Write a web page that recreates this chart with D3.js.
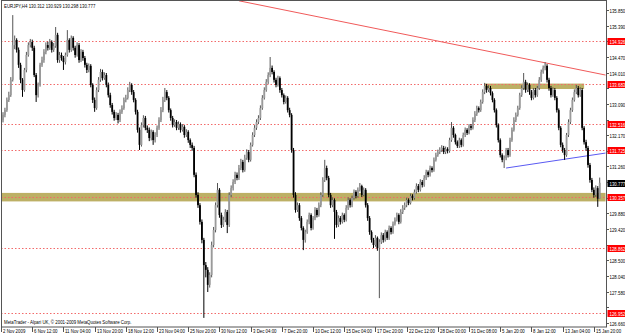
<!DOCTYPE html>
<html><head><meta charset="utf-8">
<script src="https://cdn.jsdelivr.net/npm/d3@7"></script>
<style>html,body{margin:0;padding:0;background:#fff;overflow:hidden}</style>
</head><body>
<svg id="c" width="625" height="334"></svg>
<script>
// ---- data (EURJPY H4) ----
const firstOpen = 132.62;
const closes = [
132.77,132.91,133.21,133.35,133.80,134.82,134.97,134.68,134.24,133.80,
133.50,134.09,134.53,134.82,134.91,134.74,133.94,133.35,133.65,134.24,
134.38,134.62,134.82,134.74,134.91,134.68,134.79,135.12,134.38,134.53,
134.44,134.32,134.53,134.97,134.68,135.03,134.74,134.53,134.82,134.38,
134.62,134.44,134.24,134.09,134.21,133.65,133.21,132.97,133.50,133.80,
134.03,133.85,133.94,133.65,133.35,133.06,132.86,132.68,132.77,132.62,
132.86,132.97,133.21,133.27,133.50,133.65,133.44,133.21,132.86,132.33,
131.89,132.47,132.68,132.39,132.33,132.09,132.27,132.03,132.18,132.39,
132.62,132.91,133.21,133.44,133.27,132.91,132.68,132.47,132.56,132.39,
132.50,132.33,132.42,132.18,132.27,132.03,131.89,131.80,131.01,130.42,
130.12,129.63,129.10,128.36,128.22,127.78,128.07,128.95,129.39,130.12,
130.57,129.83,129.54,129.69,129.92,129.54,130.42,130.62,130.80,131.01,
130.92,131.21,131.39,131.15,131.51,131.68,131.45,131.89,132.18,132.39,
132.56,132.68,132.97,133.27,133.50,133.74,133.94,134.15,134.03,133.80,
133.65,133.85,133.50,133.35,133.15,133.27,132.91,132.77,131.74,130.42,
129.98,130.12,129.74,129.45,129.10,129.33,129.63,129.83,129.45,129.74,
129.98,129.83,130.12,130.42,130.86,131.21,130.92,130.42,130.12,130.27,
129.92,129.54,129.74,129.63,129.83,129.69,130.04,130.27,130.12,130.33,
130.51,130.39,130.57,130.68,130.42,130.57,130.12,129.74,129.33,129.10,
128.95,129.16,128.86,129.04,129.24,129.10,129.33,129.16,129.45,129.33,
129.57,129.69,129.83,129.63,129.92,130.04,130.12,130.27,130.18,130.39,
130.33,130.51,130.68,130.57,130.80,130.71,130.92,131.09,131.01,131.21,
131.15,131.45,131.59,131.68,131.74,131.80,131.68,131.77,131.71,132.03,
132.39,132.18,131.97,131.86,132.03,131.89,132.18,132.33,132.24,132.44,
132.39,132.62,132.80,132.97,132.91,133.15,133.44,133.62,133.50,133.56,
133.41,133.21,132.91,132.47,132.03,131.59,131.45,131.50,131.74,131.59,
132.03,132.33,132.62,132.77,132.97,133.35,133.56,133.74,133.50,133.65,
133.44,133.27,133.50,133.35,133.56,133.80,134.03,134.15,134.21,133.80,
133.56,133.35,133.50,133.27,132.91,132.39,131.89,131.74,131.59,132.18,
132.56,132.91,133.21,133.44,133.56,133.35,133.50,132.39,131.97,131.80,
131.30,130.86,130.57,130.42,130.62,130.31,130.777];
const highs = [
132.85,132.98,133.28,133.45,133.88,135.70,135.10,135.02,134.75,134.30,
133.85,134.15,134.62,134.90,135.00,134.98,134.80,134.00,133.72,134.30,
134.48,134.70,134.90,134.92,135.00,134.96,134.88,135.35,135.18,134.62,
134.60,134.50,134.60,135.26,135.02,135.10,135.08,134.80,134.90,134.88,
134.70,134.68,134.50,134.30,134.28,134.26,133.70,133.28,133.58,133.88,
134.12,134.10,134.02,134.00,133.72,133.42,133.12,132.92,132.85,132.83,
132.93,133.05,133.28,133.36,133.58,133.74,133.70,133.50,133.26,132.92,
132.40,132.55,132.76,132.74,132.46,132.40,132.34,132.32,132.26,132.46,
132.70,133.00,133.30,133.56,133.50,133.32,132.96,132.74,132.64,132.62,
132.58,132.55,132.50,132.47,132.35,132.32,132.08,131.96,131.86,131.08,
130.50,130.18,129.70,129.16,128.45,128.30,128.15,129.05,129.48,130.20,
130.77,130.62,129.90,129.78,130.00,129.98,130.50,130.70,130.88,131.10,
131.08,131.30,131.48,131.45,131.60,131.76,131.74,131.96,132.26,132.47,
132.64,132.76,133.05,133.35,133.58,133.82,134.02,134.47,134.22,134.08,
133.86,133.92,133.90,133.56,133.40,133.34,133.32,132.98,132.82,131.80,
130.50,130.20,130.18,129.80,129.50,129.40,129.70,129.90,129.88,129.80,
130.06,130.04,130.20,130.50,130.94,131.45,131.28,130.98,130.48,130.35,
130.32,129.98,129.82,129.80,129.90,129.88,130.12,130.35,130.32,130.40,
130.58,130.56,130.64,130.77,130.72,130.64,130.62,130.18,129.80,129.38,
129.16,129.24,129.20,129.12,129.32,129.30,129.40,129.38,129.52,129.50,
129.64,129.76,129.90,129.88,130.00,130.12,130.20,130.34,130.32,130.46,
130.44,130.58,130.76,130.74,130.88,130.86,131.00,131.16,131.14,131.28,
131.26,131.52,131.66,131.75,131.82,131.88,131.86,131.84,131.82,132.10,
132.56,132.44,132.22,132.02,132.10,132.08,132.25,132.40,132.38,132.50,
132.50,132.70,132.88,133.04,133.02,133.22,133.52,133.71,133.68,133.64,
133.62,133.46,133.26,132.96,132.52,132.08,131.64,131.58,131.80,131.80,
132.10,132.40,132.70,132.84,133.04,133.42,133.64,134.00,133.80,133.72,
133.70,133.50,133.56,133.56,133.62,133.88,134.10,134.22,134.32,134.26,
133.86,133.62,133.58,133.56,133.32,132.96,132.44,131.96,131.80,132.24,
132.64,132.98,133.28,133.52,133.65,133.62,133.58,133.56,132.44,132.04,
131.86,131.36,130.92,130.64,130.70,130.68,130.93];
const lows = [
132.55,132.70,132.86,133.15,133.30,133.75,134.70,134.60,134.15,133.70,
133.30,133.45,134.02,134.48,134.75,134.65,133.88,133.15,133.28,133.60,
134.18,134.30,134.55,134.66,134.68,134.60,134.62,134.74,134.30,134.30,
134.36,134.09,134.25,134.48,134.60,134.62,134.66,134.45,134.48,134.30,
134.32,134.36,134.16,134.00,134.02,133.58,133.12,132.86,132.92,133.44,
133.74,133.78,133.80,133.58,133.28,132.98,132.78,132.60,132.62,132.52,
132.56,132.80,132.92,133.14,133.22,133.44,133.36,133.14,132.78,132.25,
131.74,131.84,132.40,132.32,132.24,132.00,132.02,131.89,131.96,132.12,
132.33,132.56,132.85,133.15,133.20,132.84,132.60,132.40,132.42,132.32,
132.33,132.25,132.28,132.10,132.12,131.95,131.80,131.72,130.94,130.34,
130.04,129.55,129.00,126.81,128.00,127.57,127.70,128.00,128.88,129.32,
130.05,129.75,129.45,129.48,129.62,129.30,129.48,130.35,130.55,130.74,
130.85,130.86,131.15,131.08,131.10,131.45,131.38,131.40,131.84,132.12,
132.33,132.50,132.62,132.92,133.22,133.45,133.68,133.88,133.96,133.72,
133.58,133.60,133.42,133.28,133.08,133.10,132.84,132.70,131.66,130.34,
129.90,129.92,129.66,129.38,128.80,129.02,129.28,129.56,129.38,129.40,
129.68,129.76,129.78,130.06,130.36,130.80,130.85,130.35,130.04,130.06,
129.13,129.46,129.48,129.55,129.58,129.62,129.64,129.98,130.05,130.06,
130.28,130.32,130.34,130.52,130.36,130.38,130.05,129.66,129.25,129.02,
128.86,128.90,128.78,127.39,128.98,129.02,129.05,129.10,129.10,129.26,
129.28,129.52,129.64,129.56,129.58,129.86,129.98,130.06,130.12,130.14,
130.26,130.28,130.46,130.50,130.52,130.64,130.66,130.86,130.94,130.96,
131.08,131.10,131.40,131.54,131.62,131.68,131.62,131.62,131.64,131.66,
131.98,132.10,131.90,131.80,131.80,131.82,131.84,132.12,132.18,132.20,
132.32,132.34,132.56,132.74,132.84,132.86,133.10,133.38,133.42,133.44,
133.34,133.14,132.84,132.40,131.96,131.52,131.38,131.21,131.44,131.52,
131.54,131.98,132.28,132.56,132.72,132.92,133.30,133.50,133.42,133.44,
133.36,133.20,133.22,133.28,133.30,133.50,133.74,133.98,134.08,133.72,
133.48,133.28,133.30,133.20,132.84,132.32,131.82,131.66,131.45,131.54,
132.12,132.50,132.86,133.16,133.38,133.28,133.30,132.32,131.90,131.72,
131.22,130.78,130.50,130.34,130.36,130.07,130.30];

const priceTicks = ["135.850","135.390","134.930","134.470","134.010","133.550","133.090",
  "132.630","132.170","131.710","131.260","130.800","130.340","129.880","129.420",
  "128.960","128.500","128.040","127.580","127.120","126.660"];
const timeLabels = ["2 Nov 2009","6 Nov 12:00","11 Nov 04:00","13 Nov 20:00","18 Nov 12:00",
  "23 Nov 04:00","25 Nov 20:00","30 Nov 12:00","3 Dec 04:00","7 Dec 20:00","10 Dec 12:00",
  "15 Dec 04:00","17 Dec 20:00","22 Dec 12:00","28 Dec 00:00","31 Dec 08:00","5 Jan 20:00",
  "8 Jan 12:00","13 Jan 04:00","15 Jan 20:00"];
const levelPrices = [134.926, 133.683, 132.516, 131.725, 130.357, 128.862, 126.952];
const currentPrice = 130.777;
const zones = [{from:0, to:309, lo:130.23, hi:130.48}, {from:247, to:298, lo:133.53, hi:133.69}];
const redTrend = [{bar:121, p:136.12}, {bar:309, p:133.94}];
const blueTrend = [{bar:258, p:131.21}, {bar:309, p:131.65}];
const title = "EURJPY,H4  130.312 130.929 130.298 130.777";
const footer = "MetaTrader - Alpari UK, \u00a9 2001-2009 MetaQuotes Software Corp.";

// ---- layout ----
const L = 1, T = 1, R = 606, B = 327;
const svg = d3.select("#c");
const x = d3.scaleLinear().domain([0, closes.length - 1]).range([3, 599.7]);
const y = d3.scaleLinear().domain([126.66, 135.85]).range([323, 10]);
const FONT = "'Liberation Sans', Arial, sans-serif";
const FS = 5.6, SX = 0.78;

svg.append("defs").append("clipPath").attr("id","plot")
  .append("rect").attr("x",L).attr("y",T).attr("width",R-L).attr("height",B-T);
const plot = svg.append("g").attr("clip-path","url(#plot)");

// zones
plot.selectAll("rect.zone").data(zones).join("rect").attr("class","zone")
  .attr("x", d => d.from === 0 ? L : x(d.from))
  .attr("width", d => Math.min(R, x(d.to)) - (d.from === 0 ? L : x(d.from)))
  .attr("y", d => y(d.hi)).attr("height", d => y(d.lo) - y(d.hi))
  .attr("fill","#bdb065");

// horizontal level lines (dotted)
plot.selectAll("line.lvl").data(levelPrices).join("line")
  .attr("x1",L).attr("x2",R).attr("y1",d=>Math.round(y(d))+0.5).attr("y2",d=>Math.round(y(d))+0.5)
  .attr("stroke","#f26a6a").attr("stroke-width",1).attr("stroke-dasharray","1.5,2");

// trend lines
const tl = d3.line().x(d => x(d.bar)).y(d => y(d.p));
plot.append("path").datum(redTrend).attr("d", tl).attr("stroke","#f05a5a").attr("fill","none").attr("stroke-width",1);
plot.append("path").datum(blueTrend).attr("d", tl).attr("stroke","#5a5af2").attr("fill","none").attr("stroke-width",1);

// candles
const bars = closes.map((c, i) => {
  const o = i === 0 ? firstOpen : closes[i-1];
  return {i, o, c, h: Math.max(highs[i], o, c), l: Math.min(lows[i], o, c)};
});
const g = plot.append("g");
g.selectAll("line.wick").data(bars).join("line")
  .attr("x1", d => x(d.i)).attr("x2", d => x(d.i))
  .attr("y1", d => y(d.h)).attr("y2", d => y(d.l))
  .attr("stroke", d => d.c >= d.o ? "#555" : "#000").attr("stroke-width", 1);
g.selectAll("rect.body").data(bars).join("rect")
  .attr("x", d => x(d.i) - 0.9).attr("width", 1.8)
  .attr("y", d => y(Math.max(d.o, d.c)))
  .attr("height", d => Math.max(0.8, Math.abs(y(d.o) - y(d.c))))
  .attr("fill", d => d.c >= d.o ? "#9a9a9a" : "#000");

// frame
svg.append("rect").attr("x",L+0.5).attr("y",T-0.5).attr("width",R-L).attr("height",B-T+0.5)
  .attr("fill","none").attr("stroke","#555").attr("stroke-width",1);

function txt(sel, s, tx, ty, color) {
  return sel.append("text").attr("transform",`translate(${tx},${ty}) scale(${SX},1)`)
    .attr("font-family",FONT).attr("font-size",FS).attr("fill",color||"#000").text(s);
}

// price axis (tick labels hidden under a level label are not drawn, as in MT4)
const pa = svg.append("g");
const labelYs = levelPrices.concat([currentPrice]).map(p => y(p));
priceTicks.forEach(t => {
  const yy = Math.round(y(+t)) + 0.5;
  pa.append("line").attr("x1",R).attr("x2",R+3).attr("y1",yy).attr("y2",yy).attr("stroke","#555");
  if (labelYs.every(ly => Math.abs(ly - yy) > 6.5)) txt(pa, t, R+3.5, yy+2);
});
levelPrices.forEach(p => {
  const yy = Math.round(y(p)) + 0.5;
  pa.append("rect").attr("x",R+1.5).attr("y",yy-3.5).attr("width",625-R).attr("height",7).attr("fill","#ff0000");
  txt(pa, p.toFixed(3), R+3.5, yy+2, "#fff");
});
{
  const yy = Math.round(y(currentPrice)) + 0.5;
  pa.append("rect").attr("x",R+1.5).attr("y",yy-3.5).attr("width",625-R).attr("height",7).attr("fill","#000");
  txt(pa, currentPrice.toFixed(3), R+3.5, yy+2, "#fff");
}

// time axis
const ta = svg.append("g");
timeLabels.forEach((t, k) => {
  const bar = k === 0 ? 0 : 15 + 16 * (k - 1);
  const xx = k === 0 ? L + 0.5 : Math.round(x(bar)) + 0.5;
  ta.append("line").attr("x1",xx).attr("x2",xx).attr("y1",B).attr("y2",B+5).attr("stroke","#555");
  txt(ta, t, xx + 1.5, 333);
});

txt(svg, title, 4, 7.5);
txt(svg, footer, 4, 324);
</script>
</body></html>
